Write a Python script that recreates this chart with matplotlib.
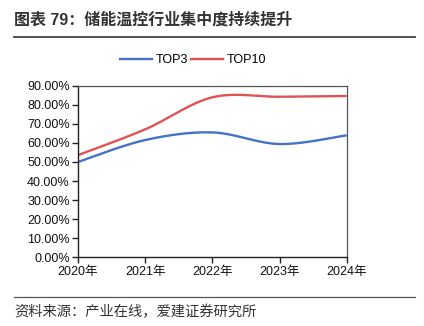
import numpy as np
import matplotlib
matplotlib.use('Agg')
import matplotlib.pyplot as plt
from matplotlib.lines import Line2D

plt.rcParams['font.family'] = ['Liberation Sans', 'Noto Sans CJK SC', 'DejaVu Sans']

years = ['2020年', '2021年', '2022年', '2023年', '2024年']
top3 = [50.0, 61.5, 65.5, 59.4, 64.0]
top10 = [53.6, 67.1, 83.9, 84.2, 84.6]
yticks = np.arange(0, 91, 10)


def smooth(y, n=40):
    # Excel-style smoothed line: cubic Bezier with neighbour-based control points
    y = np.asarray(y, float)
    x = np.arange(len(y), dtype=float)
    px = np.concatenate([[x[0]], x, [x[-1]]])
    py = np.concatenate([[y[0]], y, [y[-1]]])
    xs, ys = [], []
    t = np.linspace(0, 1, n)
    for i in range(len(y) - 1):
        p0 = np.array([px[i + 1], py[i + 1]])
        p3 = np.array([px[i + 2], py[i + 2]])
        c1 = p0 + (np.array([px[i + 2], py[i + 2]]) - np.array([px[i], py[i]])) / 6
        c2 = p3 - (np.array([px[i + 3], py[i + 3]]) - np.array([px[i + 1], py[i + 1]])) / 6
        b = ((1 - t) ** 3)[:, None] * p0 + (3 * (1 - t) ** 2 * t)[:, None] * c1 \
            + (3 * (1 - t) * t ** 2)[:, None] * c2 + (t ** 3)[:, None] * p3
        xs.append(b[:, 0]); ys.append(b[:, 1])
    return np.concatenate(xs), np.concatenate(ys)


blue = '#4472C4'
red = '#E05353'

fig = plt.figure(figsize=(4.24, 3.26), dpi=100)
ax = fig.add_axes([78 / 424, 1 - 257.3 / 326, (346.7 - 78) / 424, (257.3 - 85.7) / 326])

for vals, c in [(top3, blue), (top10, red)]:
    sx, sy = smooth(vals)
    ax.plot(sx, sy, color=c, linewidth=1.7, solid_capstyle='butt')

ax.set_xlim(0, len(years) - 1)
ax.set_ylim(0, 90)
ax.set_xticks(range(len(years)))
ax.set_xticklabels(years, fontsize=9)
ax.set_yticks(yticks)
ax.set_yticklabels([f'{v:.2f}%' for v in yticks], fontsize=9)
ax.tick_params(direction='out', length=4, width=1, color='#222222', pad=2, labelcolor='#111111')
for s in ['left', 'bottom']:
    ax.spines[s].set_color('#222222')
    ax.spines[s].set_linewidth(1.0)
for s in ['top', 'right']:
    ax.spines[s].set_color('#555555')
    ax.spines[s].set_linewidth(0.9)

handles = [Line2D([], [], color=blue, lw=1.7), Line2D([], [], color=red, lw=1.7)]
fig.legend(handles, ['TOP3', 'TOP10'], loc='center', bbox_to_anchor=(193 / 424, 1 - 60 / 326),
           ncol=2, frameon=False, fontsize=9, handlelength=2.6, handletextpad=0.3,
           columnspacing=0.2)

fig.text(14 / 424, 1 - 20 / 326, '图表 79：储能温控行业集中度持续提升', fontsize=11.5,
         fontweight='bold', color='#333333', va='center', ha='left')
fig.add_artist(Line2D([14 / 424, 415 / 424], [1 - 37 / 326] * 2, color='#444444', lw=1.3))
fig.add_artist(Line2D([14 / 424, 415 / 424], [1 - 297 / 326] * 2, color='#555555', lw=0.9))
fig.text(14 / 424, 1 - 312 / 326, '资料来源：产业在线，爱建证券研究所', fontsize=10.3,
         color='#333333', va='center', ha='left')

fig.savefig('out.png', dpi=100)
